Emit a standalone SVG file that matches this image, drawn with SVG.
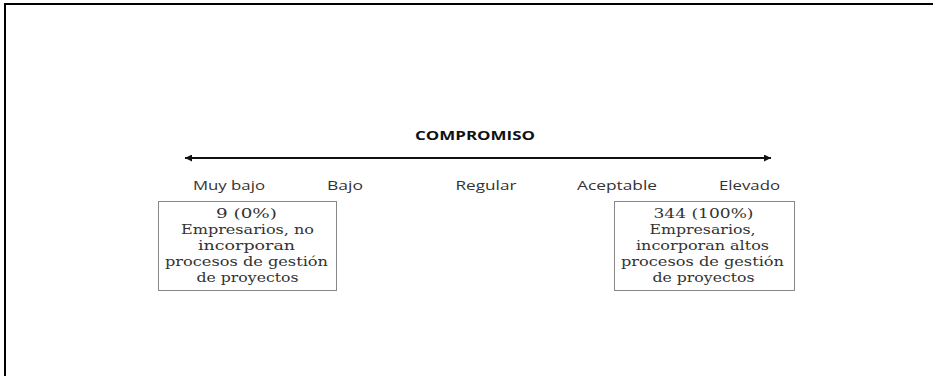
<svg xmlns="http://www.w3.org/2000/svg" width="933" height="376" viewBox="0 0 933 376">
<defs>
<marker id="ah" viewBox="0 0 10 10" refX="10" refY="5" markerWidth="11" markerHeight="7" markerUnits="userSpaceOnUse" orient="auto-start-reverse">
<path d="M0,0 L10,5 L0,10 z" fill="#111"/>
</marker>
<style>
.lbl{font-family:"Open Sans","DejaVu Sans",sans-serif;font-size:13px;fill:#333;text-anchor:middle}
.ttl{font-family:"Open Sans","DejaVu Sans",sans-serif;font-size:12px;font-weight:bold;fill:#111;text-anchor:middle}
.box{fill:#fff;stroke:#888;stroke-width:1}
.bt{font-family:"DejaVu Serif","Liberation Serif",serif;font-size:13.5px;fill:#333;text-anchor:middle}
</style>
</defs>
<rect width="933" height="376" fill="#fff"/>
<path d="M5,376 V4 H933" fill="none" stroke="#000" stroke-width="2"/>
<g id="title"><text class="ttl" x="475" y="140" textLength="120" lengthAdjust="spacingAndGlyphs">COMPROMISO</text></g>
<g id="connectors">
<line x1="185" y1="158" x2="771" y2="158" stroke="#111" stroke-width="2" marker-start="url(#ah)" marker-end="url(#ah)"/>
</g>
<g id="scale">
<text class="lbl" x="229" y="190" textLength="72" lengthAdjust="spacingAndGlyphs">Muy bajo</text>
<text class="lbl" x="345" y="190" textLength="36" lengthAdjust="spacingAndGlyphs">Bajo</text>
<text class="lbl" x="486" y="190" textLength="61" lengthAdjust="spacingAndGlyphs">Regular</text>
<text class="lbl" x="617" y="190" textLength="80" lengthAdjust="spacingAndGlyphs">Aceptable</text>
<text class="lbl" x="749.5" y="190" textLength="61" lengthAdjust="spacingAndGlyphs">Elevado</text>
</g>
<g id="box-left">
<rect class="box" x="158.5" y="201.5" width="178" height="89"/>
<text class="bt" x="246.5" y="217.5" textLength="61" lengthAdjust="spacingAndGlyphs">9  (0%)</text>
<text class="bt" x="247.5" y="233.5" textLength="133" lengthAdjust="spacingAndGlyphs">Empresarios, no</text>
<text class="bt" x="246.5" y="249.5" textLength="97" lengthAdjust="spacingAndGlyphs">incorporan</text>
<text class="bt" x="246.5" y="265.5" textLength="163" lengthAdjust="spacingAndGlyphs">procesos de gestión</text>
<text class="bt" x="247.5" y="281.5" textLength="102" lengthAdjust="spacingAndGlyphs">de proyectos</text>
</g>
<g id="box-right">
<rect class="box" x="614.5" y="201.5" width="180" height="89"/>
<text class="bt" x="703.5" y="217.5" textLength="100" lengthAdjust="spacingAndGlyphs">344 (100%)</text>
<text class="bt" x="702.5" y="233.5" textLength="106" lengthAdjust="spacingAndGlyphs">Empresarios,</text>
<text class="bt" x="702.5" y="249.5" textLength="133" lengthAdjust="spacingAndGlyphs">incorporan altos</text>
<text class="bt" x="702.5" y="265.5" textLength="163" lengthAdjust="spacingAndGlyphs">procesos de gestión</text>
<text class="bt" x="703.5" y="281.5" textLength="102" lengthAdjust="spacingAndGlyphs">de proyectos</text>
</g>
</svg>
